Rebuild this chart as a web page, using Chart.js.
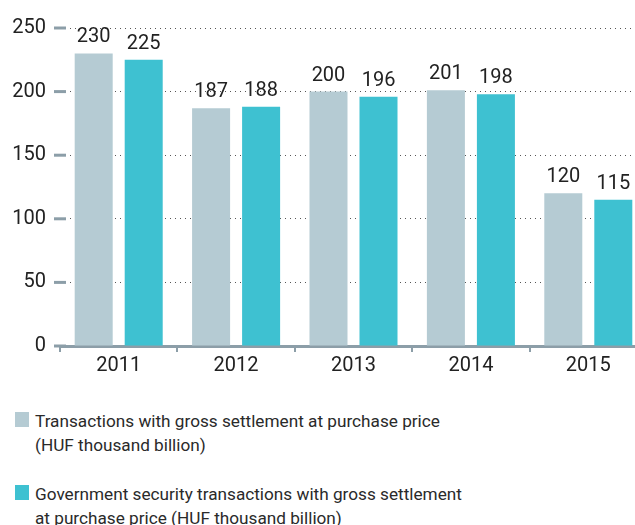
<!DOCTYPE html>
<html>
<head>
<meta charset="utf-8">
<script src="https://cdn.jsdelivr.net/npm/chart.js@4/dist/chart.umd.min.js"></script>
<style>
  html, body { margin: 0; padding: 0; background: #fff; }
  #wrap { width: 635px; height: 525px; overflow: hidden; position: relative; }
  #box { width: 650px; height: 390px; }
  .legend { position: absolute; left: 15px; font-family: Roboto, sans-serif; font-weight: 400;
            font-size: 17.2px; line-height: 24px; color: #2a2a2a; }
  .legend .sw { position: absolute; left: 0; top: 3px; width: 14px; height: 15px; }
  .legend .tx { margin-left: 20px; }
</style>
</head>
<body>
<div id="wrap">
  <div id="box"><canvas id="chart"></canvas></div>
  <div class="legend" style="top:409px"><span class="sw" style="background:#b5cbd3"></span><div class="tx" id="l1"></div></div>
  <div class="legend" style="top:482px"><span class="sw" style="background:#3ec1d1"></span><div class="tx" id="l2"></div></div>
</div>
<script>
const years = ['2011', '2012', '2013', '2014', '2015']
const grossSettlement = [230, 187, 200, 201, 120]
const govSecurities = [225, 188, 196, 198, 115]
const legend1 = ['Transactions with gross settlement at purchase price', '(HUF thousand billion)']
const legend2 = ['Government security transactions with gross settlement', 'at purchase price (HUF thousand billion)']

document.getElementById('l1').innerHTML = legend1.join('<br>')
document.getElementById('l2').innerHTML = legend2.join('<br>')

const axisGrey = '#8c9ea8'
const font = { family: 'Roboto, sans-serif', size: 20 }

// value labels over bars and short dashes at the y ticks
const extras = {
  id: 'extras',
  afterDatasetsDraw(chart) {
    const ctx = chart.ctx
    ctx.save()
    ctx.fillStyle = '#222'
    ctx.font = '20px Roboto, sans-serif'
    ctx.textAlign = 'center'
    ctx.textBaseline = 'bottom'
    chart.data.datasets.forEach((ds, i) => {
      chart.getDatasetMeta(i).data.forEach((bar, j) => {
        ctx.fillText(ds.data[j], bar.x, bar.y - 6)
      })
    })
    const y = chart.scales.y
    const left = chart.chartArea.left
    ctx.strokeStyle = axisGrey
    ctx.lineWidth = 3
    y.ticks.forEach((t, k) => {
      const py = y.getPixelForTick(k)
      ctx.beginPath()
      ctx.moveTo(left - 6, py)
      ctx.lineTo(left + 6, py)
      ctx.stroke()
    })
    ctx.restore()
  }
}

new Chart(document.getElementById('chart'), {
  type: 'bar',
  data: {
    labels: years,
    datasets: [
      { label: legend1.join(' '), data: grossSettlement, backgroundColor: '#b5cbd3' },
      { label: legend2.join(' '), data: govSecurities, backgroundColor: '#3ec1d1' }
    ]
  },
  options: {
    responsive: true,
    maintainAspectRatio: false,
    animation: false,
    layout: { padding: { top: 28, right: 3, left: 0, bottom: 0 } },
    categoryPercentage: 0.852,
    barPercentage: 0.76,
    plugins: { legend: { display: false }, tooltip: { enabled: false } },
    scales: {
      x: {
        grid: { drawOnChartArea: false, color: axisGrey, lineWidth: 2, tickLength: 6 },
        border: { color: axisGrey, width: 3 },
        ticks: { color: '#222', font: font, padding: 2 },
        afterFit(scale) { scale.height = 44 }
      },
      y: {
        min: 0,
        max: 250,
        ticks: { stepSize: 50, color: '#222', font: font, padding: 14 },
        grid: { color: '#555', lineWidth: 1, drawTicks: false },
        border: { display: false, dash: [1, 4] },
        afterFit(scale) { scale.width = 60 }
      }
    }
  },
  plugins: [extras]
})
</script>
</body>
</html>
